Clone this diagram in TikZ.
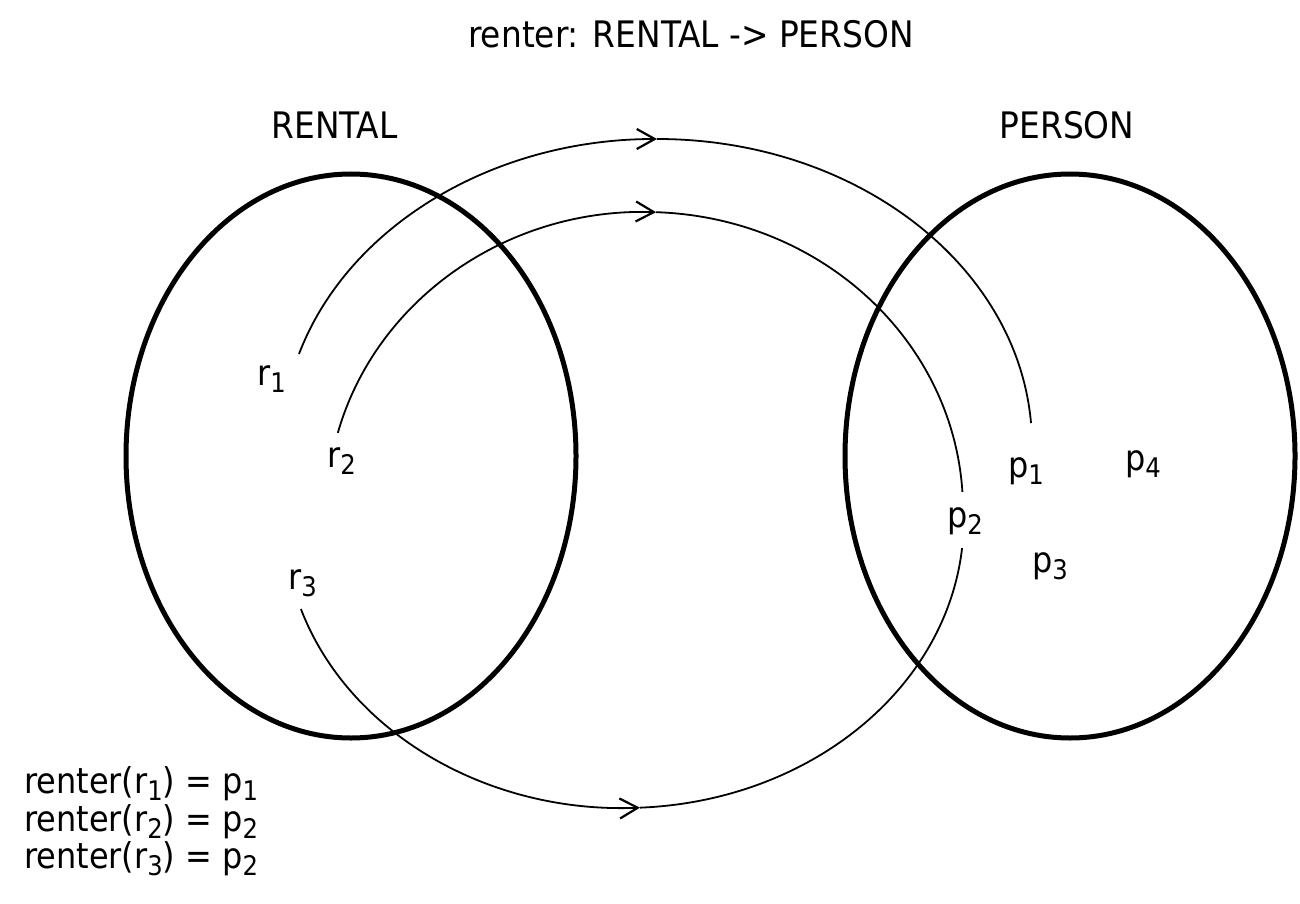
\documentclass[tikz,border=0pt]{standalone}
\usepackage{fontspec}
\setmainfont{DejaVu Sans Condensed}
\usetikzlibrary{arrows.meta,shapes.geometric,calc}
\newcommand\lsub[1]{\raisebox{-7pt}{\fontsize{27}{30}\selectfont #1}}
\begin{document}
\begin{tikzpicture}[x=1pt,y=-1pt,
  lbl/.style={inner sep=0pt, anchor=base west, font=\fontsize{35.5}{42}\selectfont},
  ttl/.style={inner sep=0pt, anchor=base, font=\fontsize{36.5}{42}\selectfont},
  set/.style={draw, ellipse, line width=5pt, inner sep=0pt, minimum width=450pt, minimum height=564pt},
  conn/.style={line width=1.8pt},
  tip/.style={-{Straight Barb[length=18pt,width=20pt,line width=2.2pt]}}]
\useasboundingbox (0,0) rectangle (1300,904);
% sets
\node[set] (rental) at (351,456) {};
\node[set] (person) at (1070,456) {};
% titles
\node[ttl] (title) at (691,48) {renter: RENTAL -> PERSON};
\node[ttl] (rentalname) at (334.5,139) {RENTAL};
\node[ttl] (personname) at (1067,139) {PERSON};
% elements
\node[lbl] (r1) at (257,385) {r\lsub{1}};
\node[lbl] (r2) at (327,467) {r\lsub{2}};
\node[lbl] (r3) at (288,589) {r\lsub{3}};
\node[lbl] (p1) at (1008,477) {p\lsub{1}};
\node[lbl] (p2) at (947,527) {p\lsub{2}};
\node[lbl] (p3) at (1032,572) {p\lsub{3}};
\node[lbl] (p4) at (1125,470) {p\lsub{4}};
% mapping arcs
\coordinate (C1) at (657,445);
\coordinate (C2) at (645,510);
\coordinate (C3) at (624,520);
\draw[conn,tip] ($(C1)+(197.3:375 and 306)$) coordinate (s1)
  arc[start angle=197.3, end angle=270, x radius=375, y radius=306] coordinate (m1);
\draw[conn] (m1) arc[start angle=270, end angle=355.9, x radius=375, y radius=306] coordinate (e1);
\draw[conn,tip] ($(C2)+(195:318 and 298)$) coordinate (s2)
  arc[start angle=195, end angle=272, x radius=318, y radius=298] coordinate (m2);
\draw[conn] (m2) arc[start angle=272, end angle=356.5, x radius=318, y radius=298] coordinate (e2);
\draw[conn,tip] ($(C3)+(162:339.7 and 288)$) coordinate (s3)
  arc[start angle=162, end angle=87.3, x radius=339.7, y radius=288] coordinate (m3);
\draw[conn] (m3) arc[start angle=87.3, end angle=5.6, x radius=339.7, y radius=288] coordinate (e3);
% function values
\node[lbl] (f1) at (24,793) {renter(r\lsub{1}) = p\lsub{1}};
\node[lbl] (f2) at (24,831) {renter(r\lsub{2}) = p\lsub{2}};
\node[lbl] (f3) at (24,868) {renter(r\lsub{3}) = p\lsub{2}};
\end{tikzpicture}
\end{document}
